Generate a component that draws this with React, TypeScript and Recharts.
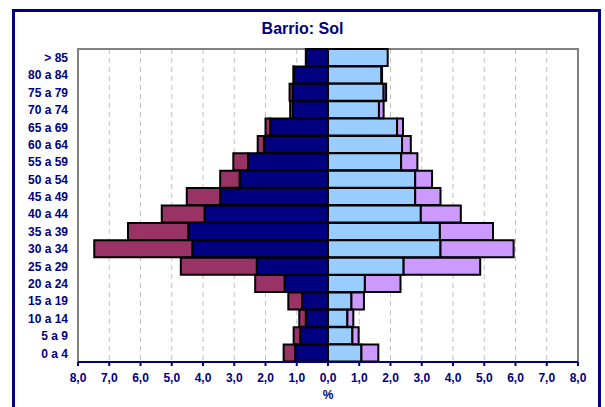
import {
    BarChart,
    Bar,
    XAxis,
    YAxis,
    CartesianGrid,
    ReferenceArea,
    Label
} from 'recharts';

const edades = [
    '> 85', '80 a 84', '75 a 79', '70 a 74', '65 a 69', '60 a 64', '55 a 59', '50 a 54', '45 a 49',
    '40 a 44', '35 a 39', '30 a 34', '25 a 29', '20 a 24', '15 a 19', '10 a 14', '5 a 9', '0 a 4'
];

// hombres (izquierda)
const hombresEsp = [0.71, 1.09, 1.13, 1.12, 1.85, 2.05, 2.56, 2.83, 3.45, 3.95, 4.47, 4.34, 2.28, 1.39, 0.83, 0.71, 0.89, 1.05];
const hombresExt = [0.0, 0.02, 0.1, 0.09, 0.15, 0.2, 0.47, 0.62, 1.07, 1.37, 1.93, 3.14, 2.43, 0.94, 0.44, 0.21, 0.21, 0.37];

// mujeres (derecha)
const mujeresEsp = [1.91, 1.71, 1.78, 1.63, 2.21, 2.37, 2.34, 2.79, 2.79, 2.97, 3.58, 3.6, 2.42, 1.18, 0.75, 0.62, 0.78, 1.07];
const mujeresExt = [0.0, 0.02, 0.08, 0.15, 0.19, 0.28, 0.52, 0.54, 0.81, 1.28, 1.7, 2.34, 2.45, 1.14, 0.4, 0.19, 0.2, 0.54];

const ticksX = [-8, -7, -6, -5, -4, -3, -2, -1, 0, 1, 2, 3, 4, 5, 6, 7, 8];

const data = edades.map((edad, i) => ({
    edad,
    hEsp: -hombresEsp[i],
    hExt: -hombresExt[i],
    mEsp: mujeresEsp[i],
    mExt: mujeresExt[i]
}));

const NAVY = '#000080';
const fmt = (v: number) => Math.abs(v).toFixed(1).replace('.', ',');

export default function App() {
    return (
        <div style={{ position: 'fixed', left: 0, top: 0, width: 605, height: 407, overflow: 'hidden', background: '#fff' }}>
            {/* marco */}
            <div style={{
                position: 'absolute', left: 12, top: 9, width: 589, height: 398,
                border: `3px solid ${NAVY}`, borderBottom: 'none', boxSizing: 'border-box'
            }} />
            <div style={{
                position: 'absolute', left: 0, top: 20, width: 605, textAlign: 'center',
                fontFamily: '"Liberation Sans", Arial, sans-serif', fontWeight: 'bold', fontSize: 16, color: NAVY
            }}>
                Barrio: Sol
            </div>
            <div style={{ position: 'absolute', left: 0, top: 0 }}>
                <BarChart
                    width={605}
                    height={407}
                    data={data}
                    layout="vertical"
                    stackOffset="sign"
                    barCategoryGap={0}
                    margin={{ top: 49, right: 27, bottom: 0, left: 0 }}
                    style={{ fontFamily: '"Liberation Sans", Arial, sans-serif' }}
                >
                    <CartesianGrid horizontal={false} stroke="#c0c0c0" strokeDasharray="5 4" />
                    <ReferenceArea x1={-8} x2={8} fill="none" stroke="#808080" strokeWidth={2} ifOverflow="visible" />
                    <XAxis
                        type="number"
                        domain={[-8, 8]}
                        ticks={ticksX}
                        tickFormatter={fmt}
                        allowDataOverflow
                        height={45}
                        axisLine={{ stroke: NAVY, strokeWidth: 2 }}
                        tickLine={{ stroke: NAVY, strokeWidth: 2 }}
                        tickSize={4}
                        tickMargin={7}
                        tick={{ fill: NAVY, fontSize: 12, fontWeight: 'bold' }}
                    >
                        <Label value="%" position="insideBottom" offset={8} fill={NAVY} fontSize={12} fontWeight="bold" />
                    </XAxis>
                    <YAxis
                        type="category"
                        dataKey="edad"
                        width={78}
                        axisLine={false}
                        tickLine={false}
                        tickSize={0}
                        tickMargin={10}
                        interval={0}
                        tick={{ fill: NAVY, fontSize: 12, fontWeight: 'bold' }}
                    />
                    <Bar dataKey="hEsp" stackId="a" fill="#000080" stroke="#000" strokeWidth={2} isAnimationActive={false} />
                    <Bar dataKey="hExt" stackId="a" fill="#993366" stroke="#000" strokeWidth={2} isAnimationActive={false} />
                    <Bar dataKey="mEsp" stackId="a" fill="#99ccff" stroke="#000" strokeWidth={2} isAnimationActive={false} />
                    <Bar dataKey="mExt" stackId="a" fill="#cc99ff" stroke="#000" strokeWidth={2} isAnimationActive={false} />
                </BarChart>
            </div>
        </div>
    );
}
